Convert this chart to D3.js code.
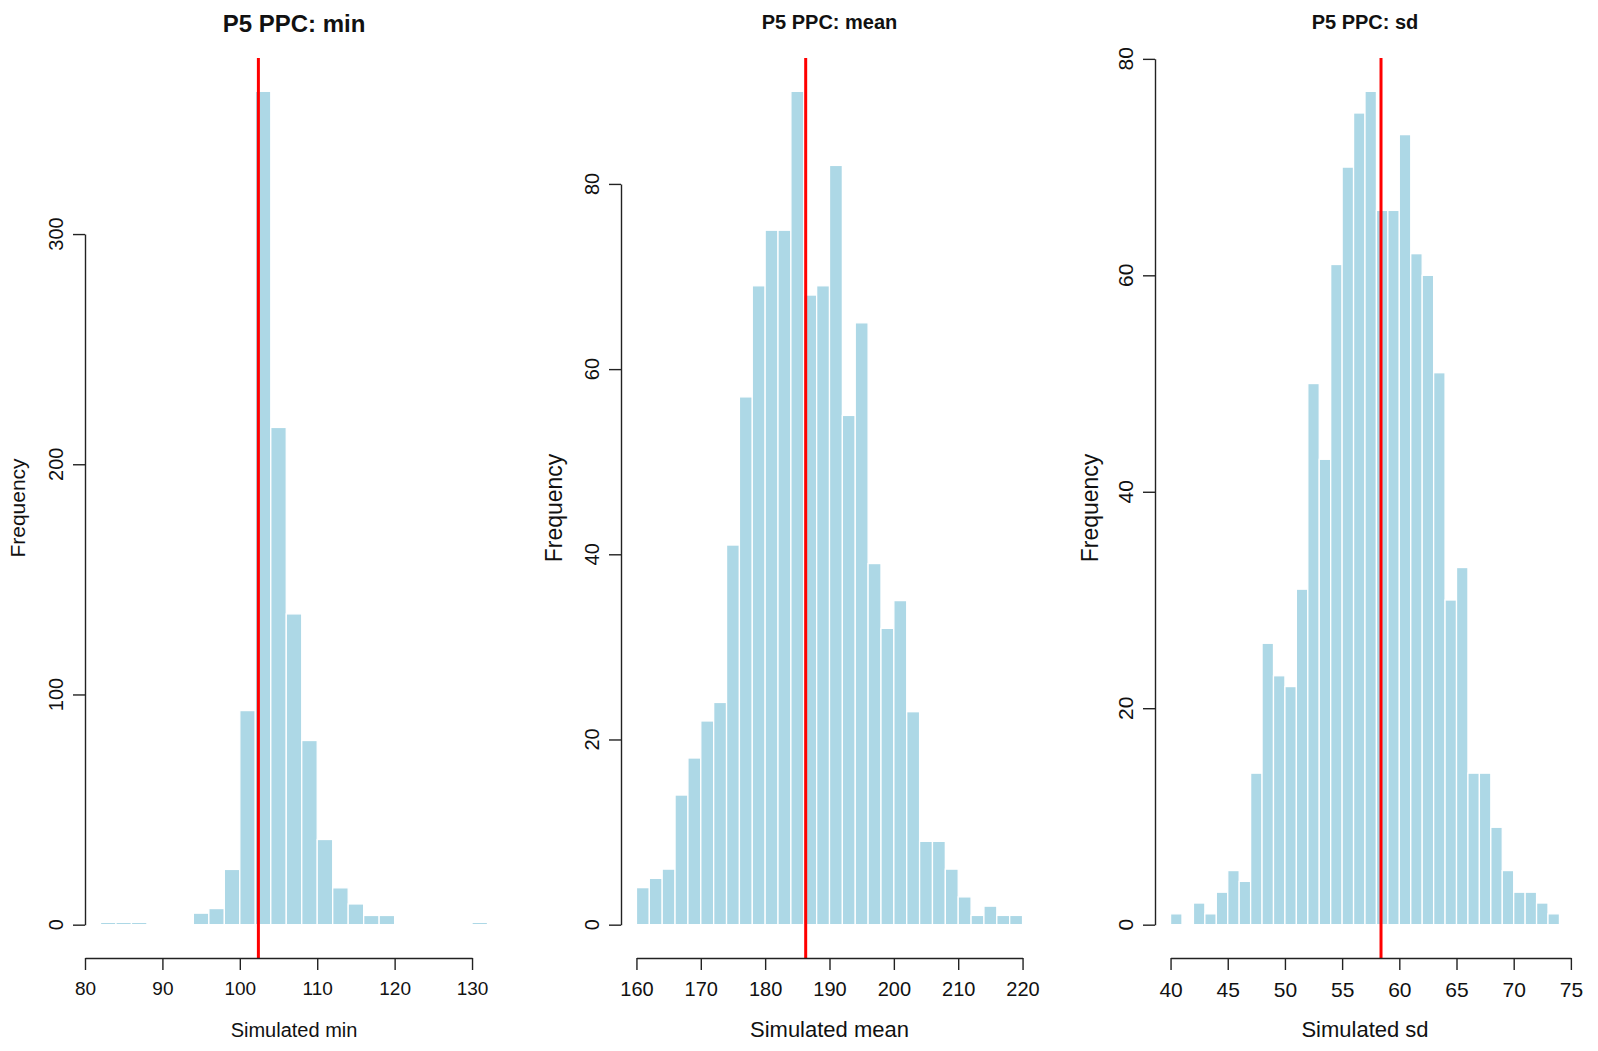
<!DOCTYPE html>
<html>
<head>
<meta charset="utf-8">
<script src="https://cdn.jsdelivr.net/npm/d3@7"></script>
<style>
  body { margin: 0; background: #fff; }
  svg { display: block; font-family: "Liberation Sans", Arial, sans-serif; }
</style>
</head>
<body>
<svg id="chart" width="1598" height="1051"></svg>
<script>
// Data: histogram counts (bin edges = start + i * width)
let minCounts = [1, 1, 1, 0, 0, 0, 5, 7, 24, 93, 362, 216, 135, 80, 37, 16, 9, 4, 4, 0, 0, 0, 0, 0, 1];
let minBins = { start: 82, width: 2 };
let minTicksX = [80, 90, 100, 110, 120, 130];
let minTicksY = [0, 100, 200, 300];
let minObserved = 102.4;

let meanCounts = [4, 5, 6, 14, 18, 22, 24, 41, 57, 69, 75, 75, 90, 68, 69, 82, 55, 65, 39, 32, 35, 23, 9, 9, 6, 3, 1, 2, 1, 1];
let meanBins = { start: 160, width: 2 };
let meanTicksX = [160, 170, 180, 190, 200, 210, 220];
let meanTicksY = [0, 20, 40, 60, 80];
let meanObserved = 186.3;

let sdCounts = [1, 0, 2, 1, 3, 5, 4, 14, 26, 23, 22, 31, 50, 43, 61, 70, 75, 77, 66, 66, 73, 62, 60, 51, 30, 33, 14, 14, 9, 5, 3, 3, 2, 1];
let sdBins = { start: 40, width: 1 };
let sdTicksX = [40, 45, 50, 55, 60, 65, 70, 75];
let sdTicksY = [0, 20, 40, 60, 80];
let sdObserved = 58.4;

let titles = ["P5 PPC: min", "P5 PPC: mean", "P5 PPC: sd"];
let xLabels = ["Simulated min", "Simulated mean", "Simulated sd"];

// Colors
let colors = {
  bar: "#ADD8E6",
  barStroke: "#ffffff",
  line: "#ff0000",
  axis: "#222222",
  text: "#111111"
};

// Layout of each panel (plot region in pixels + font sizes)
let panels = [
  { counts: minCounts, bins: minBins, ticksX: minTicksX, ticksY: minTicksY, observed: minObserved,
    left: 85, right: 503, titleSize: 24, titleY: 32, tickSize: 19, ytickSize: 20, labelSize: 20, freqSize: 21, yTitleOff: 60 },
  { counts: meanCounts, bins: meanBins, ticksX: meanTicksX, ticksY: meanTicksY, observed: meanObserved,
    left: 621, right: 1038, titleSize: 20, titleY: 29, tickSize: 20, ytickSize: 20, labelSize: 22, freqSize: 23, yTitleOff: 59 },
  { counts: sdCounts, bins: sdBins, ticksX: sdTicksX, ticksY: sdTicksY, observed: sdObserved,
    left: 1155, right: 1575, titleSize: 20, titleY: 29, tickSize: 21, ytickSize: 21, labelSize: 22, freqSize: 23, yTitleOff: 57 }
];
let plotTop = 58, plotBottom = 958;

let svg = d3.select("#chart");

panels.forEach(function (p, i) {
  let g = svg.append("g").attr("class", "panel panel" + i);

  let bins = p.counts.map(function (c, k) {
    return { x0: p.bins.start + k * p.bins.width, x1: p.bins.start + (k + 1) * p.bins.width, n: c };
  });

  // R style: range extended by 4% on each side
  let xMin = bins[0].x0, xMax = bins[bins.length - 1].x1;
  let xPad = (xMax - xMin) * 0.04;
  let yMax = d3.max(p.counts);

  let x = d3.scaleLinear().domain([xMin - xPad, xMax + xPad]).range([p.left, p.right]);
  let y = d3.scaleLinear().domain([-yMax * 0.04, yMax * 1.04]).range([plotBottom, plotTop]);

  // Bars
  g.append("g")
    .selectAll("rect")
    .data(bins.filter(b => b.n > 0))
    .enter()
    .append("rect")
    .attr("x", b => x(b.x0))
    .attr("width", b => x(b.x1) - x(b.x0))
    .attr("y", b => y(b.n))
    .attr("height", b => y(0) - y(b.n))
    .attr("fill", colors.bar)
    .attr("stroke", colors.barStroke)
    .attr("stroke-width", 1.3);

  // Observed value line
  g.append("line")
    .attr("x1", x(p.observed))
    .attr("x2", x(p.observed))
    .attr("y1", plotTop)
    .attr("y2", plotBottom)
    .attr("stroke", colors.line)
    .attr("stroke-width", 3);

  // X axis: line only between first and last tick
  let tx0 = p.ticksX[0], tx1 = p.ticksX[p.ticksX.length - 1];
  let xAxisScale = x.copy().domain([tx0, tx1]).range([x(tx0), x(tx1)]);
  let xAxis = g.append("g")
    .attr("transform", "translate(0," + plotBottom + ")")
    .call(d3.axisBottom(xAxisScale).tickValues(p.ticksX).tickSize(12).tickSizeOuter(0).tickPadding(12).tickFormat(d3.format("d")));
  xAxis.select(".domain").attr("stroke", colors.axis).attr("stroke-width", 1.4);
  xAxis.selectAll(".tick line").attr("stroke", colors.axis).attr("stroke-width", 1.4);
  xAxis.selectAll(".tick text")
    .attr("fill", colors.text)
    .style("font-size", p.tickSize + "px")
    .style("font-family", "'Liberation Sans', Arial, sans-serif");

  // Y axis with rotated labels
  let ty0 = p.ticksY[0], ty1 = p.ticksY[p.ticksY.length - 1];
  let yAxisScale = y.copy().domain([ty0, ty1]).range([y(ty0), y(ty1)]);
  let yAxis = g.append("g")
    .attr("transform", "translate(" + p.left + ",0)")
    .call(d3.axisLeft(yAxisScale).tickValues(p.ticksY).tickSize(12).tickSizeOuter(0).tickFormat(""));
  yAxis.select(".domain").attr("stroke", colors.axis).attr("stroke-width", 1.4);
  yAxis.selectAll(".tick line").attr("stroke", colors.axis).attr("stroke-width", 1.4);

  g.append("g")
    .selectAll("text")
    .data(p.ticksY)
    .enter()
    .append("text")
    .attr("transform", d => "translate(" + (p.left - 22) + "," + y(d) + ") rotate(-90)")
    .attr("text-anchor", "middle")
    .attr("fill", colors.text)
    .style("font-size", p.ytickSize + "px")
    .text(d => d);

  // Axis titles
  g.append("text")
    .attr("x", (p.left + p.right) / 2)
    .attr("y", 1037)
    .attr("text-anchor", "middle")
    .attr("fill", colors.text)
    .style("font-size", p.labelSize + "px")
    .text(xLabels[i]);

  g.append("text")
    .attr("transform", "translate(" + (p.left - p.yTitleOff) + "," + ((plotTop + plotBottom) / 2) + ") rotate(-90)")
    .attr("text-anchor", "middle")
    .attr("fill", colors.text)
    .style("font-size", p.freqSize + "px")
    .text("Frequency");

  // Title
  g.append("text")
    .attr("x", (p.left + p.right) / 2)
    .attr("y", p.titleY)
    .attr("text-anchor", "middle")
    .attr("fill", colors.text)
    .style("font-size", p.titleSize + "px")
    .style("font-weight", "bold")
    .text(titles[i]);
});
</script>
</body>
</html>
